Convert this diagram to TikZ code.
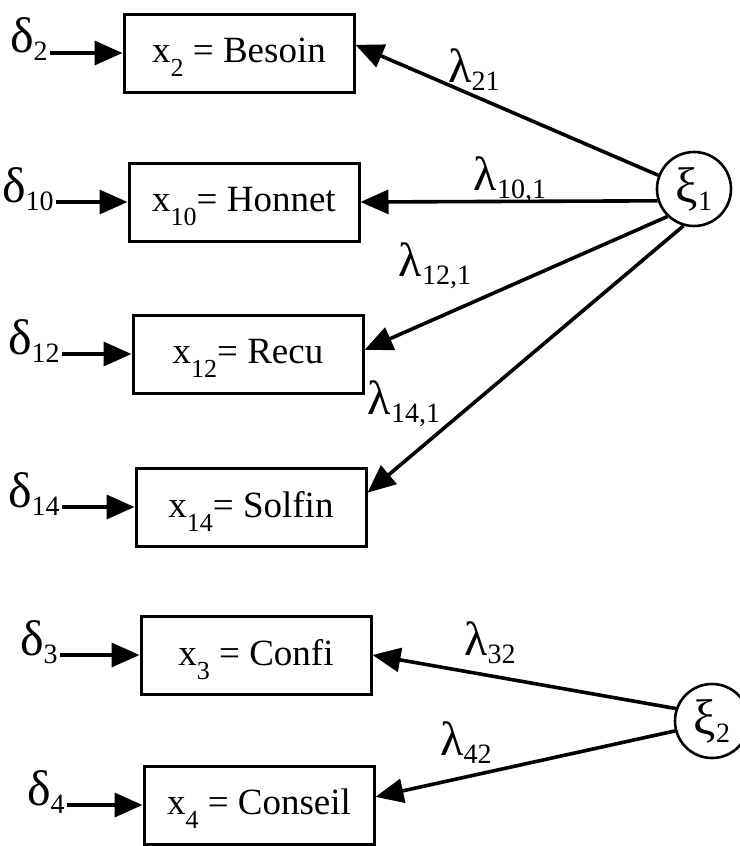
\documentclass[tikz,border=0pt]{standalone}
\usepackage{fontspec}
\setmainfont{Liberation Serif}
\usetikzlibrary{arrows.meta, positioning}
\newcommand{\xsub}[1]{\raisebox{-7pt}{\fontsize{13}{13}\selectfont #1}}
\newcommand{\gsub}[1]{\raisebox{-4pt}{\fontsize{14}{14}\selectfont #1}}
\tikzstyle{var} = [rectangle, text centered, draw=black, line width=1.5pt,
	minimum width=115pt, minimum height=39pt, text depth=3pt,
	font=\fontsize{18.5}{22}\selectfont]
\tikzstyle{factor} = [circle, draw=black, line width=1.3pt, minimum size=37pt,
	inner sep=0pt, font=\fontsize{25}{28}\selectfont]
\tikzstyle{err} = [anchor=base east, inner sep=1pt, font=\fontsize{25}{28}\selectfont]
\tikzstyle{load} = [inner sep=0pt, font=\fontsize{24}{28}\selectfont]
\tikzstyle{arrow} = [-{Triangle[length=14pt, width=12pt]}, line width=1.8pt]

\begin{document}
\begin{tikzpicture}[x=0.5pt, y=-0.5pt]
	\useasboundingbox (0,0) rectangle (739,846);

	% set up observed variables
	\node (besoin) [var] at (239,53) {x\xsub{2} = Besoin};
	\node (honnet) [var] at (244,202) {x\xsub{10}= Honnet};
	\node (recu) [var] at (248,354) {x\xsub{12}= Recu};
	\node (solfin) [var] at (251,507) {x\xsub{14}= Solfin};
	\node (confi) [var] at (256,655) {x\xsub{3} = Confi};
	\node (conseil) [var] at (259,805) {x\xsub{4} = Conseil};

	% set up factors
	\node (xi1) [factor] at (694,189) {ξ\gsub{1}};
	\node (xi2) [factor] at (712,721) {ξ\gsub{2}};

	% set up errors
	\node (d2) [err] at (50,53) {δ\gsub{2}};
	\node (d10) [err] at (56,202) {δ\gsub{10}};
	\node (d12) [err] at (62,354) {δ\gsub{12}};
	\node (d14) [err] at (62,507) {δ\gsub{14}};
	\node (d3) [err] at (60,655) {δ\gsub{3}};
	\node (d4) [err] at (67,805) {δ\gsub{4}};

	% set up arrows
	\draw [arrow] (d2.base east) -- (besoin.west);
	\draw [arrow] (d10.base east) -- (honnet.west);
	\draw [arrow] (d12.base east) -- (recu.west);
	\draw [arrow] (d14.base east) -- (solfin.west);
	\draw [arrow] (d3.base east) -- (confi.west);
	\draw [arrow] (d4.base east) -- (conseil.west);

	\draw [arrow] (xi1.159) -- (besoin.4);
	\draw [arrow] (xi1.198) -- (honnet.east);
	\draw [arrow] (xi1.226) -- (recu.2);
	\draw [arrow] (xi1.254) -- (solfin.7);
	\draw [arrow] (xi2.161) -- (confi.east);
	\draw [arrow] (xi2.195) -- (conseil.4);

	% set up loadings
	\node (l21) [load] at (474,70) {λ\gsub{21}};
	\node (l101) [load] at (510,180) {λ\gsub{10,1}};
	\node (l121) [load] at (435,266) {λ\gsub{12,1}};
	\node (l141) [load] at (404,404) {λ\gsub{14,1}};
	\node (l32) [load] at (490,643) {λ\gsub{32}};
	\node (l42) [load] at (466,743) {λ\gsub{42}};

\end{tikzpicture}
\end{document}
